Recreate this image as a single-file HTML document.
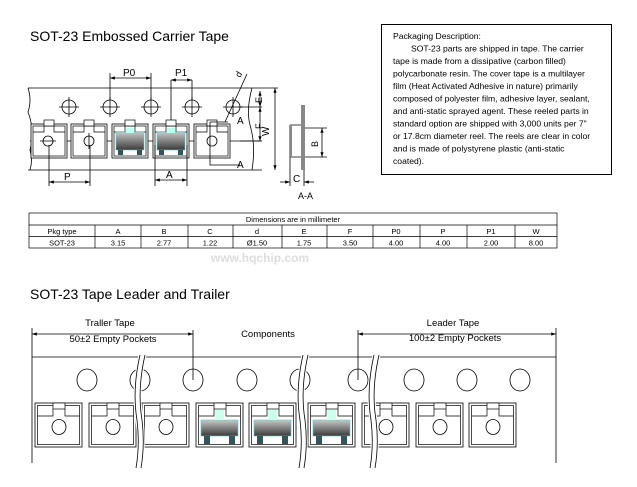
<!DOCTYPE html>
<html><head><meta charset="utf-8"><style>
body{margin:0;background:#fff;}
svg{display:block;font-family:"Liberation Sans",Arial,sans-serif;}
</style></head><body>
<svg width="637" height="487" viewBox="0 0 637 487" xmlns="http://www.w3.org/2000/svg">
<defs>
<linearGradient id="g" x1="0" y1="0" x2="0" y2="1"><stop offset="0" stop-color="#c8c8c8"/><stop offset="1" stop-color="#3a3a3a"/></linearGradient>
<marker id="ar" viewBox="0 0 6 6" refX="6" refY="3" markerWidth="6" markerHeight="6" orient="auto-start-reverse"><path d="M0,1 L6,3 L0,5z" fill="#000"/></marker>
<g id="tp"><rect x="0" y="0" width="36" height="34" fill="#fff" stroke="#000" stroke-width="0.8"/><rect x="2" y="2" width="32" height="30" fill="none" stroke="#000" stroke-width="0.7"/><rect x="13" y="-4" width="10" height="6" fill="#fff" stroke="#000" stroke-width="0.7"/><path d="M2,8 H13 V2 M23,2 V8 H34" fill="none" stroke="#000" stroke-width="0.7"/></g>
<g id="tc"><rect x="4" y="8" width="28" height="18" fill="url(#g)" stroke="#5cc" stroke-width="0.6"/><rect x="14" y="4" width="8" height="5" fill="#bfe" /><rect x="6" y="26" width="5" height="5" fill="#355"/><rect x="25" y="26" width="5" height="5" fill="#355"/></g>
<g id="bp"><rect x="0" y="0" width="47" height="44" fill="#fff" stroke="#000" stroke-width="0.8"/><rect x="2.5" y="2.5" width="42" height="39" fill="none" stroke="#000" stroke-width="0.7"/><rect x="18" y="0" width="12" height="6" fill="#fff" stroke="#000" stroke-width="0.7"/><path d="M2.5,13 H18 V6 M30,6 V13 H44.5" fill="none" stroke="#000" stroke-width="0.7"/></g>
<g id="bc"><rect x="5" y="17" width="37" height="16" fill="url(#g)" stroke="#5cc" stroke-width="0.6"/><rect x="19" y="7" width="9" height="10" fill="#cfe"/><rect x="8" y="33" width="6" height="8" fill="#355"/><rect x="33" y="33" width="6" height="8" fill="#355"/></g>
</defs>

<text x="30" y="41" font-size="14">SOT-23  Embossed Carrier Tape</text>

<!-- top tape -->
<path d="M28,88 H278 M28,170 H262" stroke="#000" stroke-width="0.8" fill="none"/>
<path d="M28,88 Q32,100 28,112 Q35,130 30,150 Q33,160 30,170" stroke="#000" stroke-width="0.8" fill="none"/>
<path d="M252,88 Q246,110 250,125 Q256,145 252,170" stroke="#000" stroke-width="0.8" fill="none"/>
<g stroke="#000" stroke-width="0.8" fill="none">
<circle cx="69" cy="107" r="7"/><circle cx="110" cy="107" r="7"/><circle cx="151" cy="107" r="7"/><circle cx="192" cy="107" r="7"/><circle cx="233" cy="107" r="7"/>
<path d="M59,107h20M69,97v20M100,107h20M110,97v20M141,107h20M151,97v20M182,107h20M192,97v20M223,107h20M233,97v20"/>
<line x1="30" y1="141" x2="262" y2="141"/>
</g>
<use href="#tp" x="31" y="124"/><use href="#tp" x="71" y="124"/><use href="#tp" x="112" y="124"/><use href="#tp" x="153" y="124"/><use href="#tp" x="194" y="124"/>
<use href="#tc" x="112" y="124"/><use href="#tc" x="153" y="124"/>
<g stroke="#000" stroke-width="0.8" fill="none">
<circle cx="48" cy="141" r="5"/><circle cx="89" cy="141" r="5"/><circle cx="212" cy="141" r="5"/>
<path d="M40,141h16M89,133v16"/>
<path d="M110,100V73M151,100V73M171,120V80M192,100V80M49,145V186M90,145V186M155,145V186M187,145V186"/>
<line x1="110" y1="78" x2="151" y2="78" marker-start="url(#ar)" marker-end="url(#ar)"/>
<line x1="171" y1="80" x2="192" y2="80" marker-start="url(#ar)" marker-end="url(#ar)"/>
<line x1="49" y1="182" x2="90" y2="182" marker-start="url(#ar)" marker-end="url(#ar)"/>
<line x1="155" y1="180" x2="187" y2="180" marker-start="url(#ar)" marker-end="url(#ar)"/>
<line x1="275" y1="88" x2="275" y2="170" marker-start="url(#ar)" marker-end="url(#ar)"/>
<line x1="260" y1="91" x2="260" y2="107" marker-start="url(#ar)" marker-end="url(#ar)"/>
<line x1="260" y1="107" x2="260" y2="141" marker-start="url(#ar)" marker-end="url(#ar)"/>
<path d="M238,107H262M240,141H262M210,122H228M210,122V165H240M225,122L247,74"/>
<path d="M303,105V170M290,125H304M290,157H304M290,125V157M304,128H327M304,157H327M290,157V186M304,170V186" />
<line x1="322" y1="128" x2="322" y2="157" marker-start="url(#ar)" marker-end="url(#ar)"/>
<line x1="280" y1="182" x2="290" y2="182" marker-end="url(#ar)"/>
<line x1="314" y1="182" x2="304" y2="182" marker-end="url(#ar)"/>
</g>
<path d="M301,105h4v65h-4zM290,125h2v32h-2z" fill="#888"/>
<g font-size="10">
<text x="123" y="76">P0</text><text x="175" y="76">P1</text><text x="64" y="180">P</text><text x="166" y="178">A</text>
<text x="237" y="124">A</text><text x="237" y="168">A</text><text x="293" y="182">C</text><text x="298" y="199" font-size="9">A-A</text>
<text transform="translate(269,136) rotate(-90)">W</text>
<text transform="translate(262,103) rotate(-90)" font-size="9">E</text>
<text transform="translate(262,129) rotate(-90)" font-size="9">F</text>
<text transform="translate(318,147) rotate(-90)" font-size="9">B</text>
<text transform="translate(240,78) rotate(-60)" font-size="9">d</text>
</g>

<rect x="381.5" y="24.5" width="230" height="150" fill="#fff" stroke="#000" stroke-width="1"/>
<g font-size="8.6">
<text x="393" y="39">Packaging Description:</text>
<text x="411" y="51.5">SOT-23 parts are shipped in tape. The carrier</text>
<text x="393" y="64">tape is made from a dissipative (carbon filled)</text>
<text x="393" y="76.5">polycarbonate resin. The cover tape is a multilayer</text>
<text x="393" y="89">film (Heat Activated Adhesive in nature) primarily</text>
<text x="393" y="101.5">composed of polyester film, adhesive layer, sealant,</text>
<text x="393" y="114">and anti-static sprayed agent. These reeled parts in</text>
<text x="393" y="126.5">standard option are shipped with 3,000 units per 7"</text>
<text x="393" y="139">or 17.8cm diameter reel. The reels are clear in color</text>
<text x="393" y="151.5">and is made of polystyrene plastic (anti-static</text>
<text x="393" y="164">coated).</text>
</g>

<g stroke="#000" stroke-width="0.7" fill="none">
<rect x="29" y="213" width="528" height="35"/>
<path d="M29,225H557M29,236.5H557"/>
<path d="M95,225V248M141,225V248M188,225V248M233,225V248M282,225V248M327,225V248M373,225V248M420,225V248M467,225V248M515,225V248"/>
</g>
<g font-size="7.5" text-anchor="middle">
<text x="293" y="222">Dimensions are in millimeter</text>
<text x="62" y="234">Pkg type</text><text x="118" y="234">A</text><text x="164" y="234">B</text><text x="210" y="234">C</text><text x="257" y="234">d</text><text x="304" y="234">E</text><text x="350" y="234">F</text><text x="396" y="234">P0</text><text x="443" y="234">P</text><text x="491" y="234">P1</text><text x="536" y="234">W</text>
<text x="62" y="245.5">SOT-23</text><text x="118" y="245.5">3.15</text><text x="164" y="245.5">2.77</text><text x="210" y="245.5">1.22</text><text x="257" y="245.5">Ø1.50</text><text x="304" y="245.5">1.75</text><text x="350" y="245.5">3.50</text><text x="396" y="245.5">4.00</text><text x="443" y="245.5">4.00</text><text x="491" y="245.5">2.00</text><text x="536" y="245.5">8.00</text>
</g>
<text x="260" y="262" font-size="12" fill="#ddd" text-anchor="middle" font-weight="bold">www.hqchip.com</text>

<text x="30" y="299" font-size="14">SOT-23  Tape Leader and Trailer</text>

<!-- bottom tape -->
<g stroke="#000" stroke-width="0.8" fill="none">
<path d="M32,328V463M556,328V463M32,357H556"/>
<line x1="32" y1="334" x2="193" y2="334" marker-start="url(#ar)" marker-end="url(#ar)"/>
<line x1="358" y1="334" x2="556" y2="334" marker-start="url(#ar)" marker-end="url(#ar)"/>
<path d="M193,330V380M358,330V380"/>
<ellipse cx="87" cy="380" rx="10" ry="11"/><ellipse cx="140" cy="380" rx="10" ry="11"/><ellipse cx="193" cy="380" rx="10" ry="11"/><ellipse cx="247" cy="380" rx="10" ry="11"/><ellipse cx="300" cy="380" rx="10" ry="11"/><ellipse cx="358" cy="380" rx="10" ry="11"/><ellipse cx="414" cy="380" rx="10" ry="11"/><ellipse cx="467" cy="380" rx="10" ry="11"/><ellipse cx="520" cy="380" rx="10" ry="11"/>
</g>
<use href="#bp" x="35" y="403"/><use href="#bp" x="89" y="403"/><use href="#bp" x="142" y="403"/><use href="#bp" x="196" y="403"/><use href="#bp" x="249" y="403"/><use href="#bp" x="308" y="403"/><use href="#bp" x="362" y="403"/><use href="#bp" x="416" y="403"/><use href="#bp" x="469" y="403"/>
<use href="#bc" x="196" y="403"/><use href="#bc" x="249" y="403"/><use href="#bc" x="308" y="403"/>
<g stroke="#000" stroke-width="0.8" fill="none">
<ellipse cx="59" cy="427" rx="7" ry="7.5"/><ellipse cx="113" cy="427" rx="7" ry="7.5"/><ellipse cx="166" cy="427" rx="7" ry="7.5"/><ellipse cx="386" cy="427" rx="7" ry="7.5"/><ellipse cx="440" cy="427" rx="7" ry="7.5"/><ellipse cx="493" cy="427" rx="7" ry="7.5"/>
</g>
<g stroke-width="0.8">
<path d="M140,355 Q132,390 137,420 Q140,445 136,468 L141,468 Q145,445 142,420 Q137,390 145,355z" fill="#fff" stroke="#fff" stroke-width="3"/>
<path d="M140,355 Q132,390 137,420 Q140,445 136,468 M145,355 Q137,390 142,420 Q145,445 141,468" fill="none" stroke="#000"/>
<path d="M303,355 Q295,390 300,420 Q303,445 299,468 L304,468 Q308,445 305,420 Q300,390 308,355z" fill="#fff" stroke="#fff" stroke-width="3"/>
<path d="M303,355 Q295,390 300,420 Q303,445 299,468 M308,355 Q300,390 305,420 Q308,445 304,468" fill="none" stroke="#000"/>
<path d="M374,355 Q366,390 371,420 Q374,445 370,468 L375,468 Q379,445 376,420 Q371,390 379,355z" fill="#fff" stroke="#fff" stroke-width="3"/>
<path d="M374,355 Q366,390 371,420 Q374,445 370,468 M379,355 Q371,390 376,420 Q379,445 375,468" fill="none" stroke="#000"/>
</g>
<g font-size="9.5" text-anchor="middle">
<text x="110" y="326">Traller Tape</text>
<text x="113" y="342">50±2 Empty Pockets</text>
<text x="268" y="337">Components</text>
<text x="453" y="326">Leader Tape</text>
<text x="455" y="341">100±2 Empty Pockets</text>
</g>
</svg>
</body></html>
